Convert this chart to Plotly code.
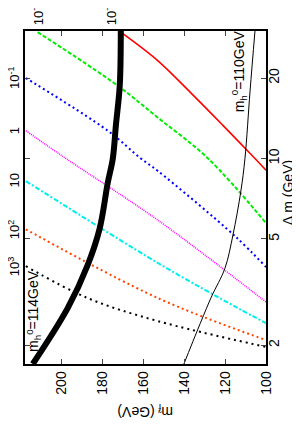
import math
import plotly.graph_objects as go

# sfermion mass m_f (GeV) and mass splitting Delta m (GeV) along each contour
red_m = [171.1, 152.9, 136.8, 121.1, 105.4, 100.0]
red_dm = [29.7, 23.2, 17.6, 13.3, 10.0, 9.04]
green_m = [211.8, 172.5, 152.9, 128.4, 100.0]
green_dm = [29.7, 18.7, 14.2, 10.0, 5.73]
blue_m = [217.6, 177.5, 161.3, 152.9, 115.2, 100.0]
blue_dm = [20.0, 12.7, 10.0, 8.97, 5.12, 3.92]
magenta_m = [217.6, 198.0, 152.9, 100.0]
magenta_dm = [12.7, 10.0, 5.87, 2.90]
cyan_m = [217.6, 152.9, 113.7, 100.0]
cyan_dm = [8.23, 4.06, 2.75, 2.42]
orange_m = [217.6, 152.9, 100.0]
orange_dm = [5.43, 3.00, 2.09]
black_m = [217.6, 187.3, 152.9, 100.0]
black_dm = [3.95, 3.00, 2.46, 1.97]
mh114_m = [214.2, 197.1, 187.3, 181.4, 177.5, 175.0, 173.5, 171.6, 171.1]
mh114_dm = [1.70, 2.75, 3.99, 5.48, 8.09, 10.0, 13.3, 18.8, 30.0]
mh110_m = [140.2, 127.0, 120.1, 116.2, 112.3, 110.3, 107.8, 105.4]
mh110_dm = [1.70, 3.00, 3.88, 5.16, 7.55, 10.0, 17.9, 30.0]

x_ticks = [100, 120, 140, 160, 180, 200]
y_ticks = [2, 5, 10, 20]
contour_labels = ["10<sup>-3</sup>", "10<sup>-2</sup>", "10<sup>-1</sup>", "1", "10",
                  "10<sup>2</sup>", "10<sup>3</sup>"]

FONT = "Liberation Sans, Arial, Helvetica, sans-serif"

fig = go.Figure()
styles = [
    (red_m, red_dm, "#ff0000", 1.6, "solid"),
    (green_m, green_dm, "#00ee00", 2, "4px,2px"),
    (blue_m, blue_dm, "#0000ff", 2, "2px,3px"),
    (magenta_m, magenta_dm, "#ff00ff", 1.5, "1px,1px"),
    (cyan_m, cyan_dm, "#00eeee", 2, "5px,2px,2px,2px"),
    (orange_m, orange_dm, "#ff4500", 2, "2px,3px"),
    (black_m, black_dm, "#000000", 2, "2px,4px"),
]
for xs, ys, c, w, d in styles:
    fig.add_trace(go.Scatter(x=xs, y=ys, mode="lines", line=dict(color=c, width=w, dash=d, shape="spline"),
                             showlegend=False, hoverinfo="skip"))
fig.add_trace(go.Scatter(x=mh114_m, y=mh114_dm, mode="lines", line=dict(color="black", width=6, shape="spline"),
                         showlegend=False))
fig.add_trace(go.Scatter(x=mh110_m, y=mh110_dm, mode="lines", line=dict(color="black", width=1, shape="spline"),
                         showlegend=False))

ann = []
# top labels (red, green)
ann.append(dict(x=red_m[0], y=1, xref="x", yref="paper", text=contour_labels[0], textangle=-90,
                xanchor="center", yanchor="bottom", yshift=4, xshift=-10, showarrow=False))
ann.append(dict(x=green_m[0], y=1, xref="x", yref="paper", text=contour_labels[1], textangle=-90,
                xanchor="center", yanchor="bottom", yshift=4, showarrow=False))
# left labels (log axis -> annotation y in log10 units)
for lab, ys in zip(contour_labels[2:], [blue_dm, magenta_dm, cyan_dm, orange_dm, black_dm]):
    ann.append(dict(x=0, y=math.log10(ys[0]), xref="paper", yref="y", text=lab, textangle=-90,
                    xanchor="right", yanchor="middle", xshift=-1, showarrow=False))
ann.append(dict(x=213.7, y=math.log10(2.68), xref="x", yref="y", text="m<sub>h</sub><sup>0</sup>=114GeV",
                textangle=-90, showarrow=False, font=dict(size=14)))
ann.append(dict(x=113.2, y=math.log10(21.2), xref="x", yref="y", text="m<sub>h</sub><sup>0</sup>=110GeV",
                textangle=-90, showarrow=False, font=dict(size=14)))
ann.append(dict(x=1.133, y=0.513, xref="paper", yref="paper", text="Δ m (GeV)", textangle=-90,
                showarrow=False, font=dict(size=14)))
ann.append(dict(x=0.5, y=-0.174, xref="paper", yref="paper", text="m<sub>f̃</sub> (GeV)", textangle=180,
                showarrow=False, font=dict(size=14)))

fig.update_layout(
    width=300, height=427,
    margin=dict(l=17, r=42, t=23, b=71),
    paper_bgcolor="white", plot_bgcolor="white",
    font=dict(family=FONT, size=13, color="black"),
    annotations=ann,
    xaxis=dict(range=[218, 100], tickvals=x_ticks, ticktext=[str(v) for v in x_ticks], tickangle=-90,
               ticks="inside", ticklen=5, tickwidth=1.2, showline=True, linecolor="black", linewidth=1.5,
               mirror="allticks", showgrid=False, zeroline=False, tickfont=dict(size=14), automargin=False),
    yaxis=dict(type="log", range=[0.2304, 1.4771], side="right", tickvals=y_ticks,
               ticktext=[str(v) for v in y_ticks], tickangle=-90, ticklabelstandoff=-6,
               ticks="inside", ticklen=5, tickwidth=1.2, showline=True, linecolor="black", linewidth=1.5,
               mirror="allticks", showgrid=False, zeroline=False, tickfont=dict(size=14), automargin=False),
)
fig.write_html("out.html")
